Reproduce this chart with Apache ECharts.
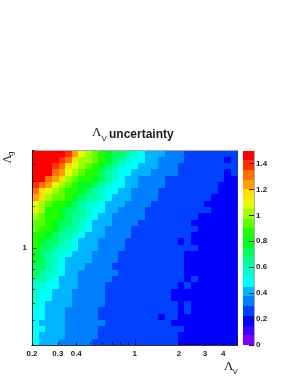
<!DOCTYPE html>
<html><head><meta charset="utf-8">
<style>html,body{margin:0;padding:0;background:#fff}#c{width:291px;height:376px}</style>
<script src="https://cdn.jsdelivr.net/npm/echarts@6/dist/echarts.min.js"></script>
</head><body><div id="c"></div>
<script>
// Range of both axes and the number of log-spaced bins
const axisMin = 0.2, axisMax = 5, binCount = 31;
// Contour palette of the colour bar, lowest band first
const bandColors = ['#8000ff','#4000ff','#0000ff','#0040ff','#0080ff','#00b4ff','#00ffff','#00ffd0','#00ffa0','#00ff60',
  '#00ff20','#20ff00','#60ff00','#a0ff00','#e0ff00','#ffe000','#ffa000','#ff7000','#ff3000','#ff0000'];
const barMax = 1.5;
const xTickValues = [0.2,0.3,0.4,0.5,0.6,0.7,0.8,0.9,2,3,4,5];
const xLabelValues = [0.2,0.3,0.4,1,2,3,4];
const yTickValues = [0.2,0.3,0.4,0.5,0.6,0.7,0.8,0.9,2,3,4,5];
const yLabelValues = [1];
const barLabelValues = [0,0.2,0.4,0.6,0.8,1,1.2,1.4];
// Colour band of each bin, top row first, left to right
const bandRows = [
[19,19,19,19,19,18,16,14,13,12,11,10,9,9,8,7,6,5,5,5,4,4,4,3,3,3,3,3,3,3,3],
[19,19,19,19,18,17,15,13,13,12,11,10,9,8,7,6,6,5,5,4,4,4,4,3,3,3,3,3,3,2,3],
[19,19,19,18,17,15,14,13,12,11,10,9,8,7,6,6,5,5,5,4,4,4,3,3,3,3,3,3,3,3,3],
[19,19,19,17,16,14,13,12,11,11,9,8,7,6,6,5,5,5,4,4,4,4,3,3,3,3,3,3,3,2,3],
[19,19,17,16,15,13,12,11,11,10,9,8,7,6,5,5,4,4,4,4,3,3,3,3,3,3,3,3,3,2,2],
[18,17,16,14,13,12,11,10,10,9,8,7,6,6,5,5,4,4,4,4,3,3,3,3,3,3,3,3,2,2,2],
[17,15,14,13,12,11,11,10,9,8,7,6,6,5,5,4,4,4,4,3,3,3,3,3,3,3,3,3,2,2,2],
[16,15,13,12,12,11,10,9,8,8,7,6,5,5,5,4,4,4,4,3,3,3,3,3,3,3,3,2,2,2,2],
[14,13,12,11,11,10,9,8,7,7,6,5,5,5,4,4,4,4,3,3,3,3,3,3,3,3,2,2,2,2,2],
[14,13,11,11,10,9,9,8,7,6,6,5,5,4,4,4,4,3,3,3,3,3,3,3,3,3,3,2,2,2,2],
[13,12,11,11,10,9,8,8,7,6,5,5,4,4,4,4,4,3,3,3,3,3,3,3,3,2,2,2,2,2,2],
[12,12,11,10,9,9,8,7,6,5,5,5,4,4,4,4,3,3,3,3,3,3,3,3,2,2,2,2,2,2,2],
[12,11,11,10,9,8,8,7,6,5,5,4,4,4,4,3,3,3,3,3,3,3,3,3,3,2,2,2,2,2,2],
[11,11,10,9,8,8,7,6,5,5,5,4,4,4,4,3,3,3,3,3,3,3,3,3,2,2,2,2,2,2,2],
[11,10,9,9,8,7,6,5,5,5,4,4,4,4,3,3,3,3,3,3,3,3,2,3,2,2,2,2,2,2,2],
[11,9,9,8,7,7,6,5,5,5,4,4,4,4,3,3,3,3,3,3,3,3,3,3,3,2,2,2,2,2,2],
[10,9,8,7,7,6,5,5,5,4,4,4,4,3,3,3,3,3,3,3,3,3,3,2,2,2,2,2,2,2,2],
[10,9,8,7,6,5,5,5,5,4,4,4,4,3,3,3,3,3,3,3,3,3,3,2,2,2,2,2,2,2,2],
[9,9,8,7,6,5,5,5,4,4,4,4,3,3,3,3,3,3,3,3,3,3,3,2,2,2,2,2,2,2,2],
[9,8,7,7,6,5,5,4,4,4,4,4,4,3,3,3,3,3,3,3,3,3,3,2,2,2,2,2,2,2,2],
[8,8,7,6,5,5,5,4,4,4,4,4,3,3,3,3,3,3,3,3,3,3,3,2,3,2,2,2,2,2,2],
[7,7,6,6,5,5,5,4,4,4,4,3,3,3,3,3,3,3,3,3,3,3,2,3,2,2,2,2,2,2,2],
[7,6,6,5,5,5,4,4,4,4,4,3,3,3,3,3,3,3,3,3,3,2,2,2,2,2,2,2,2,2,2],
[7,6,6,5,5,5,4,4,4,4,4,3,3,3,3,3,3,3,3,3,3,2,2,2,2,2,2,2,2,2,2],
[7,6,5,5,5,5,4,4,4,4,4,3,3,3,3,3,3,3,3,3,3,3,2,3,2,2,2,2,2,2,2],
[6,6,5,5,5,4,4,4,4,4,3,3,3,3,3,3,3,3,3,3,3,3,2,3,2,2,2,2,2,2,2],
[6,6,5,5,5,4,4,4,4,4,3,3,3,3,3,3,3,3,3,2,3,3,2,2,2,2,2,2,2,2,2],
[6,5,5,5,5,4,4,4,4,4,4,3,3,3,3,3,3,3,3,3,3,2,2,2,2,2,2,2,2,2,2],
[6,6,5,5,5,4,4,4,4,4,3,3,3,3,3,3,3,3,3,3,3,3,3,2,2,2,2,2,2,2,2],
[6,5,5,5,5,4,4,4,4,4,3,3,3,3,3,3,3,3,3,3,3,3,2,2,2,2,2,2,2,2,2],
[6,5,5,5,4,4,4,4,4,3,3,3,3,3,3,3,3,3,3,3,3,3,2,2,2,2,2,2,2,2,2]
];

const ink = '#1c1c1c', thin = 'rgba(0,0,0,0.55)', frame = 'rgba(60,60,80,0.45)';
const sans = '"Liberation Sans",Arial,sans-serif', serif = '"Liberation Serif",serif';
const edge = i => axisMin * Math.pow(axisMax / axisMin, i / binCount);
const bandStep = barMax / bandColors.length;

const cells = [];
bandRows.forEach((row, r) => row.forEach((band, c) => {
  cells.push([edge(c), edge(c + 1), edge(binCount - r - 1), edge(binCount - r), band]);
}));
const bandData = bandColors.map((_, b) => [0, 1, b * bandStep, (b + 1) * bandStep, b]);

function renderRect(params, api) {
  const a = api.coord([api.value(0), api.value(3)]);
  const b = api.coord([api.value(1), api.value(2)]);
  const x0 = Math.round(a[0]), y0 = Math.round(a[1]), x1 = Math.round(b[0]), y1 = Math.round(b[1]);
  return { type: 'rect', shape: { x: x0, y: y0, width: x1 - x0, height: y1 - y0 },
    style: { fill: bandColors[api.value(4)] } };
}
const labelStyle = { color: ink, fontFamily: sans, fontWeight: 'bold', fontSize: 8 };

function logAxis(position, extra) {
  return Object.assign({
    type: 'log', logBase: 10, min: axisMin, max: axisMax, position, z: 5,
    axisLine: { show: true, onZero: false, lineStyle: { color: thin, width: 1 } },
    axisTick: { show: false }, axisLabel: { show: false }, splitLine: { show: false }, minorTick: { show: false }
  }, extra || {});
}
const tick = (values, length) => ({ show: true, inside: true, length, customValues: values, lineStyle: { color: thin, width: 1 } });

const option = {
  animation: false,
  backgroundColor: '#fff',
  grid: [
    { left: 32, top: 150.5, width: 205.5, height: 194.5 },
    { left: 243, top: 150.5, width: 11, height: 194.5 }
  ],
  xAxis: [
    logAxis('bottom', { axisTick: tick(xTickValues, 3),
      axisLabel: Object.assign({ show: true, margin: 5, customValues: xLabelValues, hideOverlap: false,
        formatter: v => String(+(+v).toFixed(1)) }, labelStyle) }),
    logAxis('top', { axisLine: { show: true, onZero: false, lineStyle: { color: frame, width: 1 } } }),
    logAxis('bottom', { axisTick: tick([1], 6) }),
    { type: 'value', gridIndex: 1, min: 0, max: 1, show: false }
  ],
  yAxis: [
    logAxis('left', { axisTick: tick(yTickValues, 3),
      axisLabel: Object.assign({ show: true, margin: 5, customValues: yLabelValues, formatter: v => String(+v) }, labelStyle) }),
    logAxis('right', { axisLine: { show: true, onZero: false, lineStyle: { color: frame, width: 1 } } }),
    logAxis('left', { axisTick: tick([1], 5) }),
    { type: 'value', gridIndex: 1, min: 0, max: barMax, position: 'right', z: 5,
      axisLine: { show: true, onZero: false, lineStyle: { color: frame, width: 1 } },
      axisTick: { show: true, inside: true, length: 5, customValues: barLabelValues, lineStyle: { color: ink, width: 1 } },
      axisLabel: Object.assign({ show: true, margin: 2, customValues: barLabelValues, formatter: v => String(+v) }, labelStyle),
      splitLine: { show: false } }
  ],
  series: [
    { type: 'custom', xAxisIndex: 0, yAxisIndex: 0, renderItem: renderRect, data: cells, silent: true, clip: true },
    { type: 'custom', xAxisIndex: 3, yAxisIndex: 3, renderItem: renderRect, data: bandData, silent: true, clip: true }
  ],
  graphic: [
    { type: 'text', x: 92, y: 139.5, style: { text: 'Λ', font: '13px ' + serif, fill: ink, textVerticalAlign: 'bottom' } },
    { type: 'text', x: 101.5, y: 143, style: { text: 'V', font: '8px ' + sans, fill: ink, textVerticalAlign: 'bottom' } },
    { type: 'text', x: 109, y: 140.5, style: { text: 'uncertainty', font: 'bold 12px ' + sans, fill: ink, textVerticalAlign: 'bottom' } },
    { type: 'text', x: 224, y: 373, style: { text: 'Λ', font: '13px ' + serif, fill: ink, textVerticalAlign: 'bottom' } },
    { type: 'text', x: 232.5, y: 376, style: { text: 'V', font: '8px ' + sans, fill: ink, textVerticalAlign: 'bottom' } },
    { type: 'text', x: 14, y: 163.5, rotation: Math.PI / 2, style: { text: 'Λ', font: '12px ' + serif, fill: ink, textVerticalAlign: 'bottom' } },
    { type: 'text', x: 7, y: 156, rotation: Math.PI / 2, style: { text: 'g', font: '8px ' + sans, fill: ink, textVerticalAlign: 'top' } }
  ]
};
echarts.init(document.getElementById('c'), null, { renderer: 'canvas' }).setOption(option);
</script></body></html>
